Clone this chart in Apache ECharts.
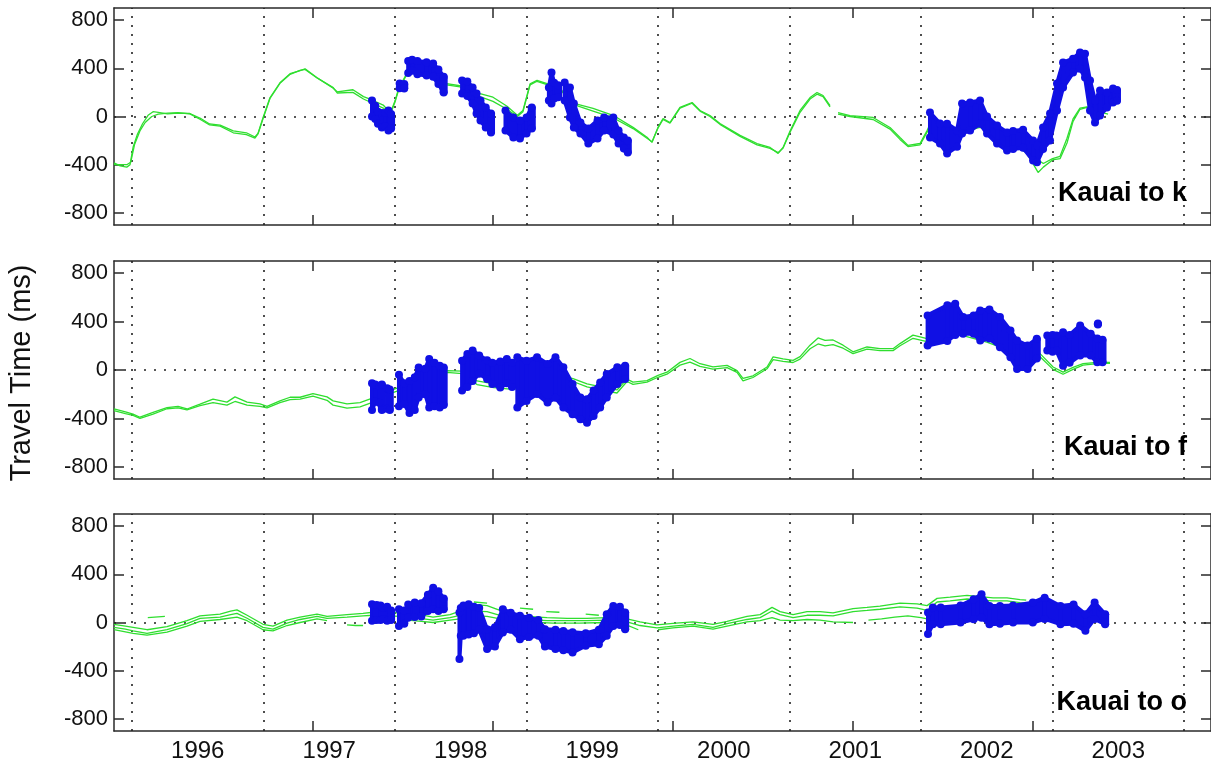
<!DOCTYPE html>
<html>
<head>
<meta charset="utf-8">
<title>Travel Time</title>
<script src="https://cdn.jsdelivr.net/npm/echarts@6/dist/echarts.min.js"></script>
<style>
	html,body{margin:0;padding:0;background:#fff;}
	#main{width:1211px;height:766px;}
</style>
</head>
<body>
<div id="main"></div>
<script>
	// x values are decimal years
	var yearLines = [1996,1997,1998,1999,2000,2001,2002,2003,2004];
	var yearLabelPos = [1996.5,1997.5,1998.5,1999.5,2000.5,2001.5,2002.5,2003.5];
	var dayTicks = [1997.373,1998.743,2000.113,2001.483,2002.853];
	var yTicks = [-800,-400,0,400,800];
	var panelNames = ['Kauai to k','Kauai to f','Kauai to o'];

	// ---- Kauai to k ----
	var kGreenA = [[1995.863,-385],[1995.91,-410],[1995.96,-420],[1995.985,-400],[1996.008,-255],[1996.04,-150],[1996.08,-60],[1996.122,10],[1996.16,40],[1996.20,35],[1996.27,22],[1996.35,28],[1996.44,25],[1996.52,-15],[1996.59,-62],[1996.67,-72],[1996.77,-120],[1996.87,-135],[1996.935,-170],[1996.958,-140],[1996.996,-10],[1997.049,155],[1997.125,280],[1997.202,355],[1997.278,380],[1997.316,395],[1997.41,320],[1997.53,235],[1997.56,205],[1997.68,222],[1997.76,165],[1997.83,135],[1997.91,95],[1997.965,30],[1998.0,130],[1998.038,270],[1998.061,300],[1998.114,405],[1998.17,440],[1998.25,380],[1998.38,275],[1998.494,255],[1998.646,190],[1998.745,160],[1998.852,85],[1998.93,10],[1998.973,50],[1999.027,270],[1999.08,300],[1999.156,272],[1999.255,232],[1999.354,110],[1999.506,68],[1999.658,10],[1999.81,-90],[1999.916,-172],[1999.954,-215],[2000.0,-90],[2000.038,-17],[2000.091,-50],[2000.167,75],[2000.259,116],[2000.319,50],[2000.395,8],[2000.471,-58],[2000.624,-157],[2000.753,-224],[2000.852,-257],[2000.913,-306],[2000.951,-257],[2001.004,-120],[2001.08,50],[2001.156,157],[2001.209,199],[2001.255,174],[2001.308,91],[2001.33,null],[2001.369,33],[2001.46,8],[2001.635,-8],[2001.764,-91],[2001.84,-174],[2001.901,-240],[2001.992,-224],[2002.046,-116],[2002.07,-60],[2002.2,-110],[2002.373,-95],[2002.449,-75],[2002.6,-150],[2002.75,-250],[2002.806,-306],[2002.89,-464],[2002.93,-420],[2003.0,-360],[2003.057,-350],[2003.11,-220],[2003.156,-40],[2003.209,60],[2003.262,75],[2003.32,50],[2003.422,20]];
	var kGreenB = [[1995.863,-400],[1995.9,-400],[1995.96,-400],[1995.99,-380],[1996.02,-230],[1996.06,-120],[1996.1,-50],[1996.15,0],[1996.2,20],[1996.27,28],[1996.35,32],[1996.44,22],[1996.52,-25],[1996.59,-70],[1996.67,-80],[1996.77,-135],[1996.87,-150],[1996.935,-180],[1996.958,-145],[1996.996,-20],[1997.049,150],[1997.125,275],[1997.202,350],[1997.278,382],[1997.316,390],[1997.41,318],[1997.53,240],[1997.56,195],[1997.68,200],[1997.76,145],[1997.83,110],[1997.91,70],[1997.965,20],[1998.0,120],[1998.038,260],[1998.061,290],[1998.114,400],[1998.17,430],[1998.25,370],[1998.38,265],[1998.494,245],[1998.646,165],[1998.745,125],[1998.852,60],[1998.93,0],[1998.973,40],[1999.027,262],[1999.08,292],[1999.156,265],[1999.255,225],[1999.354,100],[1999.506,45],[1999.658,-10],[1999.81,-100],[1999.916,-180],[1999.954,-210],[2000.0,-95],[2000.038,-25],[2000.091,-55],[2000.167,70],[2000.259,110],[2000.319,45],[2000.395,0],[2000.471,-65],[2000.624,-165],[2000.753,-235],[2000.852,-265],[2000.913,-300],[2000.951,-262],[2001.004,-130],[2001.08,35],[2001.156,145],[2001.209,185],[2001.255,165],[2001.308,80],[2001.33,null],[2001.369,20],[2001.46,0],[2001.635,-25],[2001.764,-105],[2001.84,-190],[2001.901,-250],[2001.992,-235],[2002.046,-130],[2002.07,-80],[2002.2,-125],[2002.373,-110],[2002.449,-90],[2002.6,-170],[2002.75,-270],[2002.85,-330],[2002.93,-390],[2003.0,-350],[2003.057,-330],[2003.11,-180],[2003.156,-20],[2003.209,70],[2003.262,80],[2003.32,60]];
	// blue blobs: [year, top, bottom], one list per blob
	var kBlue = [
		[[1997.825,132,0],[1997.85,90,-20],[1997.87,40,-60],[1997.9,30,-91]],
		[[1997.925,30,-80],[1997.95,50,-116],[1997.97,20,-100]],
		[[1998.035,273,235],[1998.07,270,232]],
		[[1998.1,460,360],[1998.13,470,380],[1998.17,460,350],[1998.24,450,340],[1998.29,440,330],[1998.33,390,270],[1998.37,330,200]],
		[[1998.51,298,190],[1998.55,290,170],[1998.59,240,108],[1998.62,190,25],[1998.65,132,-33],[1998.69,75,-91],[1998.73,25,-132]],
		[[1998.84,50,-116],[1998.9,-8,-174],[1998.95,-33,-182],[1999.0,-8,-141],[1999.04,75,-99]],
		[[1999.17,240,132],[1999.19,364,108],[1999.21,280,150],[1999.24,260,160]],
		[[1999.29,282,132],[1999.33,240,-8],[1999.36,108,-91],[1999.41,-50,-141],[1999.47,-99,-224],[1999.54,-33,-182],[1999.59,-8,-116],[1999.66,-8,-150],[1999.7,-116,-224],[1999.74,-174,-265],[1999.77,-199,-298]],
		[[2002.068,33,-174],[2002.144,-58,-224],[2002.198,-60,-306],[2002.274,-116,-250],[2002.312,108,-141],[2002.373,116,-116],[2002.449,132,-60],[2002.502,0,-141],[2002.578,-75,-224],[2002.654,-132,-281],[2002.7,-120,-270],[2002.776,-110,-260],[2002.852,-199,-364],[2002.882,-240,-380],[2002.928,-91,-270],[2002.981,25,-200],[2003.034,273,50],[2003.08,447,240],[2003.156,480,364],[2003.209,530,397],[2003.247,520,323],[2003.285,298,50],[2003.323,132,-50],[2003.361,215,8],[2003.414,200,75],[2003.46,232,116],[2003.49,220,130]]
	];

	// ---- Kauai to f ----
	var fGreenA = [[1995.863,-320],[1995.95,-345],[1996.008,-365],[1996.061,-390],[1996.16,-350],[1996.266,-310],[1996.35,-300],[1996.418,-322],[1996.517,-282],[1996.616,-241],[1996.722,-265],[1996.783,-222],[1996.875,-265],[1996.973,-280],[1997.027,-300],[1997.125,-255],[1997.202,-225],[1997.278,-225],[1997.376,-195],[1997.483,-222],[1997.529,-255],[1997.635,-280],[1997.734,-270],[1997.833,-230],[1997.939,-180],[1998.015,-150],[1998.1,-130],[1998.2,-90],[1998.3,-30],[1998.395,-5],[1998.51,-10],[1998.624,-90],[1998.75,-115],[1998.897,-140],[1999.0,-120],[1999.1,-75],[1999.2,-55],[1999.308,-60],[1999.354,-72],[1999.46,-115],[1999.612,-150],[1999.688,-165],[1999.764,-75],[1999.81,-100],[1999.916,-88],[2000.0,-45],[2000.068,-18],[2000.167,63],[2000.243,95],[2000.319,52],[2000.418,25],[2000.525,38],[2000.601,-5],[2000.646,-70],[2000.722,-48],[2000.829,25],[2000.875,108],[2000.951,92],[2001.027,80],[2001.08,110],[2001.156,205],[2001.217,265],[2001.27,245],[2001.331,248],[2001.407,205],[2001.483,150],[2001.589,190],[2001.688,176],[2001.787,176],[2001.84,218],[2001.939,288],[2002.046,260],[2002.2,300],[2002.3,326],[2002.5,260],[2002.7,180],[2002.905,135],[2003.004,25],[2003.08,-18],[2003.156,22],[2003.232,52],[2003.361,65],[2003.437,62]];
	var fGreenB = [[1995.863,-335],[1995.95,-360],[1996.008,-375],[1996.061,-400],[1996.16,-365],[1996.266,-320],[1996.35,-312],[1996.418,-330],[1996.517,-295],[1996.616,-270],[1996.722,-290],[1996.783,-260],[1996.875,-290],[1996.973,-300],[1997.027,-312],[1997.125,-270],[1997.202,-245],[1997.278,-240],[1997.376,-215],[1997.483,-250],[1997.529,-290],[1997.635,-315],[1997.734,-305],[1997.833,-265],[1997.939,-205],[1998.015,-175],[1998.1,-150],[1998.2,-115],[1998.3,-60],[1998.395,-20],[1998.51,-30],[1998.624,-120],[1998.75,-145],[1998.897,-160],[1999.0,-140],[1999.1,-95],[1999.2,-75],[1999.308,-80],[1999.354,-95],[1999.46,-140],[1999.612,-175],[1999.688,-190],[1999.764,-95],[1999.81,-118],[1999.916,-100],[2000.0,-60],[2000.068,-35],[2000.167,40],[2000.243,65],[2000.319,30],[2000.418,8],[2000.525,20],[2000.601,-20],[2000.646,-90],[2000.722,-62],[2000.829,10],[2000.875,85],[2000.951,72],[2001.027,62],[2001.08,90],[2001.156,175],[2001.217,215],[2001.27,200],[2001.331,210],[2001.407,180],[2001.483,135],[2001.589,172],[2001.688,160],[2001.787,160],[2001.84,200],[2001.939,262],[2002.046,235],[2002.2,270],[2002.3,290],[2002.5,230],[2002.7,150],[2002.905,110],[2003.004,5],[2003.08,-35],[2003.156,5],[2003.232,40],[2003.361,55],[2003.437,55]];
	var fBlue = [
		[[1997.825,-110,-330],[1997.85,-120,-260],[1997.88,-130,-270],[1997.9,-120,-330]],
		[[1997.94,-150,-320],[1997.96,-160,-330]],
		[[1998.03,-40,-300],[1998.07,-110,-280],[1998.11,-90,-355],[1998.15,-60,-330],[1998.18,20,-227],[1998.23,10,-200],[1998.26,91,-310],[1998.3,60,-300],[1998.34,36,-310],[1998.37,20,-290]],
		[[1998.51,77,-170],[1998.55,133,-140],[1998.59,160,-90],[1998.64,120,-30],[1998.7,80,-75],[1998.74,60,-116],[1998.8,70,-144],[1998.85,90,-110],[1998.89,60,-140]],
		[[1998.93,105,-310],[1999.0,77,-255],[1999.08,105,-199],[1999.16,50,-269],[1999.22,105,-230],[1999.28,22,-310],[1999.35,-116,-365],[1999.41,-227,-407],[1999.46,-241,-435],[1999.51,-170,-380],[1999.56,-103,-310],[1999.61,-33,-227],[1999.69,22,-116],[1999.75,36,-75]],
		[[2002.05,451,202],[2002.2,534,240],[2002.26,548,290],[2002.32,437,299],[2002.4,450,299],[2002.45,492,243],[2002.52,500,260],[2002.6,437,188],[2002.68,326,105],[2002.73,243,8],[2002.81,202,8],[2002.88,257,94]],
		[[2002.96,285,160],[2003.0,290,150],[2003.03,285,160],[2003.08,312,36],[2003.13,290,60],[2003.21,368,120],[2003.29,300,119],[2003.34,260,63],[2003.38,250,63]],
		[[2003.345,384,376]]
	];

	// ---- Kauai to o ----
	var oGreenA = [[1995.863,-15],[1995.95,-30],[1996.008,-40],[1996.114,-60],[1996.266,-35],[1996.418,15],[1996.517,55],[1996.669,70],[1996.75,95],[1996.798,105],[1996.875,60],[1996.996,-15],[1997.072,-30],[1997.179,20],[1997.278,45],[1997.407,70],[1997.483,50],[1997.635,65],[1997.757,75],[1997.833,85],[1998.038,80],[1998.19,65],[1998.289,45],[1998.418,65],[1998.494,95],[1998.593,150],[1998.7,140],[1998.798,100],[1998.897,75],[1999.004,50],[1999.156,40],[1999.308,35],[1999.46,35],[1999.612,40],[1999.764,30],[1999.863,5],[1999.992,-20],[2000.114,-8],[2000.266,5],[2000.418,-15],[2000.525,10],[2000.677,50],[2000.776,65],[2000.867,125],[2000.928,90],[2001.027,65],[2001.133,90],[2001.232,90],[2001.331,80],[2001.483,115],[2001.589,125],[2001.688,135],[2001.84,160],[2001.97,155],[2002.046,140],[2002.122,200],[2002.221,210],[2002.35,225],[2002.449,215],[2002.548,205],[2002.654,205],[2002.753,190],[2002.8,185]];
	var oGreenB = [[1995.863,-40],[1995.95,-55],[1996.008,-70],[1996.114,-90],[1996.266,-60],[1996.418,-10],[1996.517,35],[1996.669,45],[1996.75,65],[1996.798,75],[1996.875,35],[1996.996,-40],[1997.072,-55],[1997.179,-5],[1997.278,25],[1997.407,50],[1997.483,35],[1997.635,45],[1997.757,55],[1997.833,60],[1998.038,50],[1998.19,35],[1998.289,20],[1998.418,40],[1998.494,60],[1998.593,95],[1998.7,90],[1998.798,60],[1998.897,40],[1999.004,25],[1999.156,15],[1999.308,15],[1999.46,15],[1999.612,20],[1999.764,5],[1999.863,-25],[1999.992,-45],[2000.114,-30],[2000.266,-15],[2000.418,-40],[2000.525,-10],[2000.677,25],[2000.776,40],[2000.867,95],[2000.928,65],[2001.027,40],[2001.133,60],[2001.232,60],[2001.331,55],[2001.483,90],[2001.589,100],[2001.688,110],[2001.84,130],[2001.97,120],[2002.046,100],[2002.122,170],[2002.221,180],[2002.35,195],[2002.449,185],[2002.548,180],[2002.654,180],[2002.753,165],[2002.8,160]];
	var oGreenC = [[1995.863,-60],[1996.008,-90],[1996.114,-105],[1996.266,-80],[1996.418,-30],[1996.517,10],[1996.669,25],[1996.798,45],[1996.875,15],[1996.996,-60],[1997.072,-70],[1997.179,-25],[1997.278,0],[1997.407,30],[1997.483,15],[1997.6,null],[1997.635,-20],[1997.7,-25],[1997.757,-25],[1997.8,null],[1998.1,20],[1998.2,10],[1998.289,0],[1998.418,20],[1998.494,30],[1998.6,55],[1998.7,50],[1998.8,30],[1998.9,15],[1999.0,5],[1999.2,-5],[1999.4,-5],[1999.6,0],[1999.75,-15],[1999.85,-60],[1999.9,null],[2000.0,-60],[2000.114,-45],[2000.266,-30],[2000.418,-55],[2000.525,-30],[2000.677,5],[2000.776,15],[2000.867,40],[2000.928,20],[2001.027,15],[2001.133,25],[2001.232,20],[2001.331,5],[2001.483,0],[2001.55,null],[2001.6,20],[2001.7,30],[2001.8,45],[2001.9,55],[2002.0,40],[2002.046,30]];
	var oGreenD = [[1996.12,40],[1996.25,50],[1996.26,null],[1998.6,170],[1998.7,160],[1998.75,null],[1998.95,120],[1999.05,110],[1999.1,null],[1999.15,90],[1999.25,85],[1999.3,null],[1999.45,70],[1999.55,60]];
	var oBlue = [
		[[1997.825,151,14],[1997.86,145,20]],
		[[1997.89,140,20],[1997.91,120,30]],
		[[1997.94,130,14],[1997.97,100,20]],
		[[1998.03,110,-28],[1998.07,100,-10]],
		[[1998.1,150,40],[1998.15,165,45],[1998.2,160,50],[1998.25,230,96],[1998.29,289,110],[1998.33,260,96],[1998.37,200,110]],
		[[1998.49,82,-303],[1998.5,120,-110],[1998.52,140,-110],[1998.56,151,-100],[1998.6,130,-90],[1998.64,120,-60],[1998.7,-55,-220],[1998.76,-40,-200],[1998.82,110,-83],[1998.88,80,-60],[1998.95,55,-138],[1999.02,40,-120],[1999.09,20,-110],[1999.14,-55,-200],[1999.22,-60,-220],[1999.28,-70,-230],[1999.35,-80,-248],[1999.45,-90,-193],[1999.55,-60,-180],[1999.61,68,-110],[1999.66,137,-28],[1999.71,130,-20],[1999.75,82,-55]],
		[[2002.053,82,-96],[2002.09,124,-14],[2002.15,124,-14],[2002.3,140,0],[2002.4,192,27],[2002.46,234,40],[2002.52,137,-14],[2002.6,137,-10],[2002.7,140,0],[2002.85,165,0],[2002.94,206,30],[2003.06,137,-14],[2003.16,150,-10],[2003.25,68,-69],[2003.32,165,30],[2003.4,68,-14]]
	];

	var XMIN = 1995.863, XMAX = 2004.205;
	var GREEN = '#2fde2f', BLUE = '#1010e4', AXIS = '#2a2a2a';
	var FONT = 'Liberation Sans, Arial, Helvetica, sans-serif';
	var gridTops = [8, 261, 514];
	var gridHeights = [217, 218, 217];

	var panels = [
		{ green: [kGreenA, kGreenB], blue: kBlue },
		{ green: [fGreenA, fGreenB], blue: fBlue },
		{ green: [oGreenA, oGreenB, oGreenC, oGreenD], blue: oBlue }
	];

	function greenLine(data, gi, withGrid) {
		var s = {
			type: 'line', xAxisIndex: gi*2, yAxisIndex: gi*2,
			data: data, showSymbol: false, symbol: 'none', silent: true,
			lineStyle: { color: GREEN, width: 1.3 }, z: 2, animation: false
		};
		if (withGrid) {
			// dotted year lines and zero line
			var lines = yearLines.map(function(y){ return { xAxis: y }; });
			lines.push({ yAxis: 0, lineStyle: { type: [2, 8] } });
			s.markLine = {
				silent: true, symbol: 'none', label: { show: false },
				lineStyle: { color: '#222', width: 1.6, type: [2, 7] },
				data: lines, z: 1, animation: false
			};
		}
		return s;
	}

	function flatten(segs) {
		var flat = [];
		segs.forEach(function(seg, k){
			seg.forEach(function(p){ flat.push([p[0], p[1], p[2], k]); });
		});
		return flat;
	}

	function blueBand(segs, gi) {
		var flat = flatten(segs);
		return {
			type: 'custom', xAxisIndex: gi*2, yAxisIndex: gi*2,
			data: flat, encode: { x: 0, y: [1, 2] }, z: 3, silent: true, animation: false, clip: true,
			renderItem: function(params, api) {
				var i = params.dataIndex, cur = flat[i], nxt = flat[i+1];
				var t0 = api.coord([cur[0], cur[1]]), b0 = api.coord([cur[0], cur[2]]);
				var pts;
				if (nxt && nxt[3] === cur[3]) {
					var t1 = api.coord([nxt[0], nxt[1]]), b1 = api.coord([nxt[0], nxt[2]]);
					pts = [t0, t1, b1, b0];
				} else {
					pts = [[t0[0]-2, t0[1]], [t0[0]+2, t0[1]], [b0[0]+2, b0[1]], [b0[0]-2, b0[1]]];
				}
				return {
					type: 'polygon', shape: { points: pts },
					style: { fill: BLUE, stroke: BLUE, lineWidth: 4, lineJoin: 'round' }
				};
			}
		};
	}

	// round dots on the blob edges
	function blueEdges(segs, gi) {
		var pts = [];
		flatten(segs).forEach(function(p){ pts.push([p[0], p[1]]); pts.push([p[0], p[2]]); });
		return {
			type: 'scatter', xAxisIndex: gi*2, yAxisIndex: gi*2, data: pts,
			symbol: 'circle', symbolSize: 8, itemStyle: { color: BLUE, opacity: 1 },
			z: 3, silent: true, animation: false
		};
	}

	var grid = [], xAxis = [], yAxis = [], series = [];
	panels.forEach(function(p, gi){
		grid.push({ left: 114, right: 0, top: gridTops[gi], height: gridHeights[gi] });
		var lineStyle = { color: AXIS, width: 1.5 };
		['bottom', 'top'].forEach(function(pos){
			xAxis.push({
				gridIndex: gi, type: 'value', min: XMIN, max: XMAX, position: pos,
				axisLine: { show: true, onZero: false, lineStyle: lineStyle },
				axisTick: { show: true, inside: true, length: 10, customValues: dayTicks, lineStyle: lineStyle },
				axisLabel: {
					show: pos === 'bottom' && gi === 2, customValues: yearLabelPos,
					formatter: function(v){ return String(Math.floor(v)); },
					fontFamily: FONT, fontSize: 24, color: '#111', margin: 8
				},
				splitLine: { show: false }
			});
		});
		['left', 'right'].forEach(function(pos){
			yAxis.push({
				gridIndex: gi, type: 'value', min: -900, max: 900, position: pos,
				axisLine: { show: true, onZero: false, lineStyle: lineStyle },
				axisTick: { show: true, inside: true, length: 10, customValues: yTicks, lineStyle: lineStyle },
				axisLabel: {
					show: pos === 'left', customValues: yTicks,
					fontFamily: FONT, fontSize: 22, color: '#111', margin: 6
				},
				splitLine: { show: false }
			});
		});
		p.green.forEach(function(g, j){ series.push(greenLine(g, gi, j === 0)); });
		series.push(blueBand(p.blue, gi));
		series.push(blueEdges(p.blue, gi));
	});

	var labelY = [194, 448, 703];
	var graphic = [{
		type: 'text', x: 22, y: 373, rotation: Math.PI/2,
		style: { text: 'Travel Time (ms)', fill: '#111', font: '29px ' + FONT, align: 'center', verticalAlign: 'middle' }
	}];
	panelNames.forEach(function(name, i){
		graphic.push({
			type: 'text', x: 1187, y: labelY[i], z: 10,
			style: { text: name, fill: '#000', font: 'bold 27px ' + FONT, align: 'right', verticalAlign: 'middle' }
		});
	});

	var chart = echarts.init(document.getElementById('main'));
	chart.setOption({
		animation: false,
		backgroundColor: '#fff',
		grid: grid, xAxis: xAxis, yAxis: yAxis,
		series: series, graphic: graphic
	});
</script>
</body>
</html>
